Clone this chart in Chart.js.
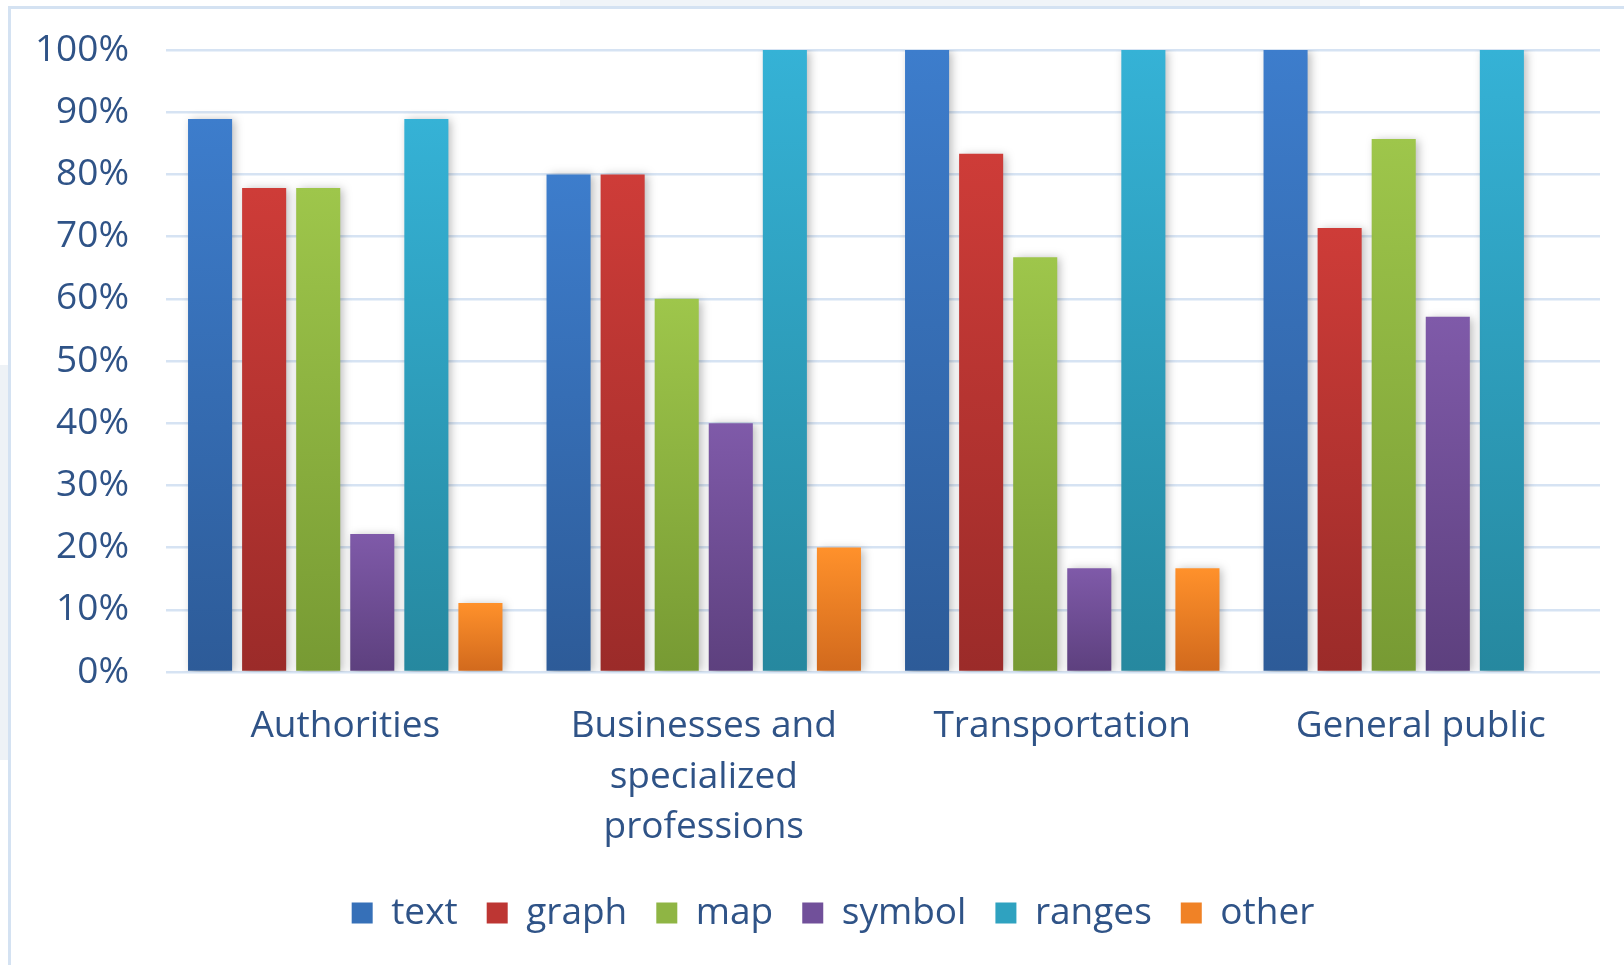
<!DOCTYPE html>
<html>
<head>
<meta charset="utf-8">
<title>Information types by user group</title>
<script src="https://cdn.jsdelivr.net/npm/chart.js@4"></script>
<style>
  html, body { margin: 0; padding: 0; background: #fff; }
  #wrap { position: relative; width: 1624px; height: 965px; overflow: hidden; }
  .band-top { position: absolute; left: 560px; top: 0; width: 800px; height: 6px; background: #f0f4f8; }
  .band-left { position: absolute; left: 0; top: 365px; width: 8px; height: 395px; background: #eef2f6; }
  .frame { position: absolute; left: 8px; top: 6px; width: 1700px; height: 1100px;
           border-top: 3px solid #d4e2f2; border-left: 3px solid #d4e2f2; }
  canvas { position: absolute; left: 0; top: 0; }
</style>
</head>
<body>
<div id="wrap">
  <div class="band-top"></div>
  <div class="band-left"></div>
  <div class="frame"></div>
  <canvas id="chart" width="1624" height="965"></canvas>
</div>
<script>
const categories = [
  "Authorities",
  ["Businesses and", "specialized", "professions"],
  "Transportation",
  "General public"
];

// share of respondents (%) per information type
const textValues    = [88.9, 80, 100, 100];
const graphValues   = [77.8, 80, 83.3, 71.4];
const mapValues     = [77.8, 60, 66.7, 85.7];
const symbolValues  = [22.2, 40, 16.7, 57.1];
const rangesValues  = [88.9, 100, 100, 100];
const otherValues   = [11.1, 20, 16.7, 0];

const yTicks = [0, 10, 20, 30, 40, 50, 60, 70, 80, 90, 100];

const FONT = "'Open Sans', 'Noto Sans', sans-serif";
const INK = "#2f5387";

// vertical gradient per bar: light at the top, darker at the base
function barFill(top, mid, bottom) {
  return (ctx) => {
    const chart = ctx.chart;
    if (ctx.type !== "data" || !chart.chartArea) return mid;
    const y = chart.scales.y;
    const y0 = y.getPixelForValue(ctx.raw);
    const y1 = y.getPixelForValue(0);
    if (y1 - y0 < 1) return top;
    const g = chart.ctx.createLinearGradient(0, y0, 0, y1);
    g.addColorStop(0, top);
    g.addColorStop(1, bottom);
    return g;
  };
}

function series(label, data, top, mid, bottom) {
  return {
    label: label,
    data: data,
    legendColor: mid,
    backgroundColor: barFill(top, mid, bottom),
    borderWidth: 0,
    categoryPercentage: 0.905,
    barPercentage: 0.815
  };
}

// soft drop shadow behind the bars
const barShadow = {
  id: "barShadow",
  beforeDatasetsDraw(chart) {
    const c = chart.ctx;
    c.save();
    c.shadowColor = "rgba(0, 0, 0, 0.28)";
    c.shadowBlur = 9;
    c.shadowOffsetX = 3;
    c.shadowOffsetY = 1;
  },
  afterDatasetsDraw(chart) {
    chart.ctx.restore();
  }
};

// legend sits a little right of the canvas centre
const legendShift = {
  id: "legendShift",
  afterLayout(chart) {
    chart.legend.left += 33;
    chart.legend.right += 33;
  }
};

new Chart(document.getElementById("chart"), {
  type: "bar",
  data: {
    labels: categories,
    datasets: [
      series("text",   textValues,   "#3d7dcc", "#3670b8", "#2d5b98"),
      series("graph",  graphValues,  "#ce3c38", "#bd3633", "#9b2b29"),
      series("map",    mapValues,    "#9ec64b", "#8fb544", "#779a33"),
      series("symbol", symbolValues, "#7f5aa9", "#71509a", "#5d407e"),
      series("ranges", rangesValues, "#35b2d6", "#2fa2c0", "#26889f"),
      series("other",  otherValues,  "#ff912b", "#f08226", "#d1691d")
    ]
  },
  options: {
    responsive: false,
    animation: false,
    layout: { padding: { top: 50, right: 24, bottom: 23.5, left: 0 } },
    scales: {
      x: {
        grid: { display: false },
        border: { display: false },
        ticks: {
          color: INK,
          padding: 21,
          maxRotation: 0,
          autoSkip: false,
          font: { family: FONT, size: 37, lineHeight: 1.37 }
        },
        afterFit(scale) { scale.height = 193.5; }
      },
      y: {
        min: 0,
        max: 100,
        afterBuildTicks(scale) { scale.ticks = yTicks.map(v => ({ value: v })); },
        grid: { color: "#d6e3f3", lineWidth: 2.5, drawTicks: false },
        border: { display: false },
        ticks: {
          color: INK,
          padding: 37,
          font: { family: FONT, size: 37 },
          callback: (v) => v + "%"
        },
        afterFit(scale) {
          scale.width = 166;
          scale.paddingTop = 0;
          scale.paddingBottom = 0;
        }
      }
    },
    plugins: {
      tooltip: { enabled: false },
      legend: {
        position: "bottom",
        labels: {
          color: INK,
          boxWidth: 21,
          boxHeight: 21,
          padding: 29,
          font: { family: FONT, size: 37 },
          generateLabels(chart) {
            return chart.data.datasets.map((ds, i) => ({
              text: ds.label,
              fillStyle: ds.legendColor,
              strokeStyle: ds.legendColor,
              lineWidth: 0,
              fontColor: INK,
              hidden: !chart.isDatasetVisible(i),
              datasetIndex: i
            }));
          }
        }
      }
    }
  },
  plugins: [barShadow, legendShift]
});
</script>
</body>
</html>
